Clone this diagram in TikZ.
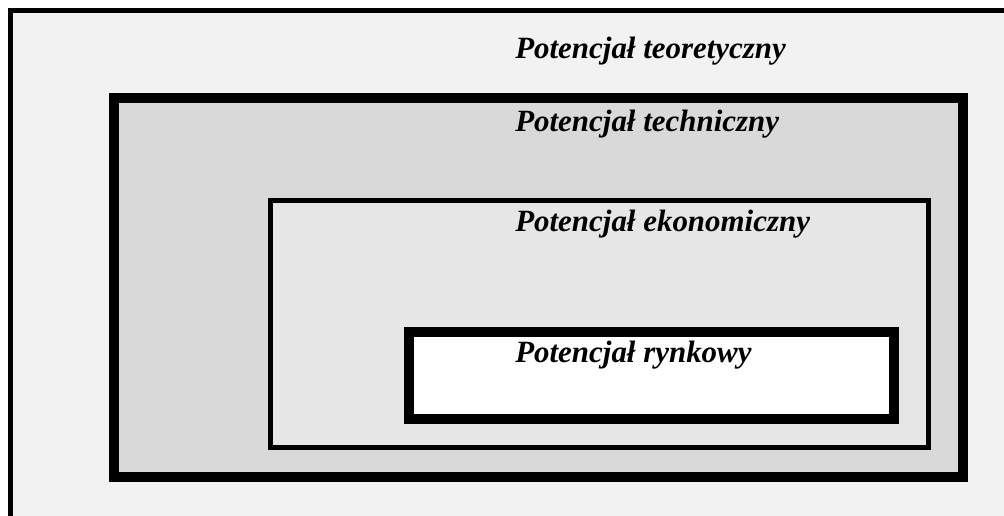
\documentclass[tikz,border=0pt]{standalone}
\usepackage{fontspec}
\setmainfont{Liberation Serif}
\definecolor{theorgray}{HTML}{F2F2F2}
\definecolor{techgray}{HTML}{D9D9D9}
\definecolor{econgray}{HTML}{E6E6E6}
\tikzset{
    level/.style={draw=black, line join=miter},
    leveltext/.style={anchor=base west, inner sep=0pt, font=\fontsize{23.2}{27}\selectfont\bfseries\itshape}
}
\begin{document}
\begin{tikzpicture}[x=0.75pt, y=-0.75pt]
        \useasboundingbox (0, 0) rectangle (1004, 515);
        \fill[white] (0, 0) rectangle (1004, 515);
        \draw[level, fill=theorgray, line width=3.75pt] (10.5, 10.5) rectangle (1015, 525);
        \draw[level, fill=techgray, line width=7.5pt] (114, 98) rectangle (963, 477);
        \draw[level, fill=econgray, line width=3.75pt] (270, 200.5) rectangle (928.5, 447.5);
        \draw[level, fill=white, line width=7.5pt] (408.5, 332) rectangle (894, 419);
        \node[leveltext] (teor) at (515, 58) {Potencjał teoretyczny};
        \node[leveltext] (tech) at (515, 131) {Potencjał techniczny};
        \node[leveltext] (econ) at (515, 231) {Potencjał ekonomiczny};
        \node[leveltext] (rynek) at (515, 362) {Potencjał rynkowy};
    \end{tikzpicture}
\end{document}
